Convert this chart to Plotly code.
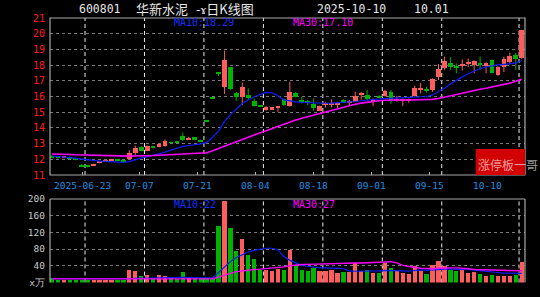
import pandas as pd
import plotly.graph_objects as go

W, H = 540, 297

# ---------------- data ----------------
holidays = ["2025-10-01", "2025-10-02", "2025-10-03", "2025-10-06", "2025-10-07", "2025-10-08"]
dates = [d.strftime("%Y-%m-%d") for d in pd.bdate_range("2025-06-13", "2025-10-10")
         if d.strftime("%Y-%m-%d") not in holidays]

opens = [12.22, 12.16, 12.10, 12.15, 12.06, 11.62, 11.57, 11.62, 11.78, 11.86,
         11.92, 11.98, 11.94, 12.02, 12.42, 12.78, 12.55, 12.78, 12.80, 12.84,
         13.10, 13.10, 13.48, 13.30, 13.40, 13.22, 14.44, 15.88, 17.47, 16.63,
         17.86, 16.20, 16.00, 16.10, 15.70, 15.42, 15.15, 15.20, 15.32, 15.82,
         15.40, 16.24, 15.76, 15.66, 15.52, 15.10, 15.50, 15.50, 15.50, 15.78,
         15.64, 15.67, 16.14, 16.10, 15.73, 16.00, 16.03, 16.31, 15.76, 15.73,
         15.76, 16.03, 16.44, 16.42, 16.41, 17.22, 17.80, 18.11, 17.90, 17.98,
         18.10, 18.00, 18.08, 17.94, 18.30, 17.37, 17.90, 18.22, 18.62, 18.46]
highs = [12.28, 12.20, 12.22, 12.18, 12.10, 11.70, 11.65, 11.72, 11.88, 11.94,
         12.00, 12.02, 11.98, 12.58, 12.88, 12.84, 12.88, 12.86, 13.02, 13.26,
         13.14, 13.18, 13.70, 13.44, 13.42, 13.24, 14.44, 15.88, 17.47, 18.92,
         17.86, 16.30, 16.90, 16.52, 15.88, 15.46, 15.38, 15.32, 15.40, 15.86,
         16.95, 16.30, 15.99, 15.78, 15.88, 15.42, 15.66, 15.82, 15.66, 15.82,
         15.78, 16.30, 16.30, 16.42, 15.88, 16.10, 16.42, 16.42, 16.03, 15.88,
         15.88, 16.68, 16.86, 16.62, 17.16, 18.07, 18.54, 18.50, 18.10, 18.36,
         18.42, 18.30, 18.54, 18.18, 18.36, 17.92, 18.54, 18.80, 18.79, 20.25]
lows = [12.10, 12.05, 12.06, 12.04, 11.94, 11.50, 11.48, 11.60, 11.75, 11.84,
        11.90, 11.88, 11.84, 11.98, 12.28, 12.52, 12.52, 12.68, 12.76, 12.80,
        13.00, 13.02, 13.18, 13.22, 13.20, 13.10, 14.44, 15.88, 17.30, 16.16,
        16.40, 15.73, 15.46, 15.78, 15.36, 15.34, 15.10, 15.18, 15.03, 15.40,
        15.35, 15.95, 15.56, 15.45, 15.10, 15.08, 15.30, 15.30, 15.26, 15.58,
        15.40, 15.66, 15.80, 15.74, 15.40, 15.90, 15.99, 15.52, 15.68, 15.40,
        15.61, 15.99, 16.20, 16.24, 16.30, 17.05, 17.70, 17.70, 17.48, 17.65,
        17.88, 17.48, 17.70, 17.48, 17.50, 17.32, 17.56, 18.10, 17.70, 18.40]
closes = [12.14, 12.10, 12.16, 12.08, 11.98, 11.58, 11.54, 11.70, 11.84, 11.90,
          11.97, 11.93, 11.88, 12.42, 12.74, 12.56, 12.82, 12.74, 12.98, 13.14,
          13.04, 13.06, 13.26, 13.34, 13.24, 13.13, 14.44, 15.88, 17.47, 18.32,
          16.46, 16.00, 16.58, 15.90, 15.40, 15.38, 15.30, 15.30, 15.36, 15.46,
          16.31, 16.00, 15.72, 15.62, 15.25, 15.40, 15.54, 15.54, 15.54, 15.60,
          15.68, 16.03, 16.18, 15.84, 15.82, 15.98, 16.35, 15.78, 15.80, 15.82,
          15.80, 16.52, 16.48, 16.40, 17.09, 17.73, 18.28, 17.90, 17.86, 18.02,
          18.14, 18.26, 18.05, 18.11, 17.52, 17.86, 18.37, 18.58, 18.41, 20.25]
volumes = [11, 6.4, 6.4, 6, 6, 5, 5, 5, 5, 6,
           5, 6, 6, 29, 26.5, 14.5, 17, 9, 19, 15,
           11, 9, 24, 10, 11, 11, 11, 8, 136, 195,
           131, 76, 105, 65, 57, 31, 29, 27, 33, 31,
           79, 41, 31, 26.5, 35, 26.5, 26.5, 29, 22, 25,
           25, 46.6, 27, 29, 22.5, 22.5, 46.6, 34.5, 26.5, 22.5,
           20, 38.6, 26.5, 20, 43, 50.6, 40, 29, 26.5, 29,
           23, 25, 20, 16, 17.7, 16, 16, 16, 19, 48]

ma10 = [12.21, 12.19, 12.16, 12.11, 12.06, 12.01, 11.96, 11.92, 11.89, 11.87,
        11.85, 11.82, 11.80, 11.85, 11.98, 12.08, 12.17, 12.26, 12.34, 12.45,
        12.58, 12.70, 12.82, 12.88, 12.92, 12.98, 13.08, 13.40, 13.80, 14.40,
        14.85, 15.22, 15.55, 15.78, 15.98, 16.12, 16.26, 16.24, 16.05, 15.78,
        15.70, 15.66, 15.62, 15.60, 15.58, 15.57, 15.57, 15.58, 15.60, 15.62,
        15.65, 15.68, 15.73, 15.78, 15.82, 15.84, 15.86, 15.88, 15.88, 15.88,
        15.90, 15.94, 15.97, 16.00, 16.10, 16.30, 16.52, 16.80, 17.05, 17.25,
        17.45, 17.62, 17.78, 17.88, 17.96, 18.01, 18.05, 18.08, 18.12, 18.29]
ma30 = [12.34, 12.34, 12.33, 12.31, 12.29, 12.28, 12.27, 12.25, 12.23, 12.21,
        12.20, 12.20, 12.20, 12.20, 12.21, 12.21, 12.22, 12.24, 12.26, 12.28,
        12.30, 12.31, 12.33, 12.34, 12.35, 12.37, 12.42, 12.55, 12.70, 12.85,
        12.98, 13.12, 13.26, 13.40, 13.54, 13.68, 13.82, 13.95, 14.10, 14.25,
        14.40, 14.50, 14.62, 14.72, 14.82, 14.93, 15.04, 15.14, 15.24, 15.34,
        15.42, 15.50, 15.58, 15.64, 15.69, 15.73, 15.76, 15.78, 15.78, 15.78,
        15.78, 15.78, 15.78, 15.79, 15.82, 15.87, 15.96, 16.05, 16.14, 16.22,
        16.30, 16.38, 16.46, 16.53, 16.60, 16.67, 16.74, 16.85, 16.97, 17.10]
vol_ma10 = [9, 9, 9, 9, 9, 9, 9, 9, 9, 9,
            8, 8, 8, 9, 10, 10.5, 11, 11.5, 12, 12.5,
            12.5, 12.5, 12.5, 12, 11.5, 11, 11, 11, 24, 38,
            50, 60, 67, 73, 77, 80, 82, 82, 78, 62,
            53, 47, 41, 39, 37, 35, 35, 35, 34, 33,
            28, 27, 27, 27, 27, 28, 29, 29, 29, 28,
            27, 29, 30, 29, 30, 32, 32, 32, 32, 31,
            30.5, 29.5, 28.5, 27, 25.5, 24, 22.5, 22.5, 22.5, 22]
vol_ma30 = [8.8, 8.8, 8.8, 8.8, 8.8, 8.8, 8.8, 8.8, 8.8, 8.8,
            8, 8, 8, 9, 9, 9, 9, 9, 9, 9,
            9, 9, 9, 9, 9, 9, 9, 9, 13, 18,
            22, 26, 28, 29.5, 31, 32, 33, 35, 36.5, 37.5,
            40, 42, 43, 43.5, 44, 45, 45.5, 46, 46.5, 46.5,
            46.6, 46.6, 46.6, 46.8, 47, 47.5, 49, 50, 47, 41,
            38, 36, 34, 33, 33, 34, 35, 35, 35, 34.5,
            33, 31, 30.5, 30.5, 30, 29.5, 29, 29, 28.5, 28]

axis_labels = ["2025-06-23", "07-07", "07-21", "08-04", "08-18", "09-01", "09-15", "10-10"]
grid_dates = ["2025-06-23", "2025-07-07", "2025-07-21", "2025-08-04",
              "2025-08-18", "2025-09-01", "2025-09-15", "2025-10-10"]
price_ticks = list(range(11, 22))
vol_ticks = [0, 40, 80, 120, 160, 200]
vol_ticktext = ["x万", "40", "80", "120", "160", "200"]

# ---------------- styling ----------------
UP = "#ff5c5c"
DOWN = "#00b300"
BG = "#000000"
MONO = "DejaVu Sans Mono"
CJK = "Noto Sans CJK SC"


def fx(px):
    return px / W


def fy(py):
    return 1 - py / H


idx = list(range(len(dates)))
is_up = [c > o for o, c in zip(opens, closes)]
colors = [UP if u else DOWN for u in is_up]

fig = go.Figure()

# candle wicks
for flag, col in ((True, UP), (False, DOWN)):
    wx, wy = [], []
    for i in idx:
        if is_up[i] == flag:
            wx += [i, i, None]
            wy += [lows[i], highs[i], None]
    fig.add_trace(go.Scatter(x=wx, y=wy, mode="lines", line=dict(color=col, width=1),
                             hoverinfo="skip", showlegend=False, xaxis="x", yaxis="y"))

# candle bodies
MINH = 0.06
for flag, col in ((True, UP), (False, DOWN)):
    bx, bb, bh = [], [], []
    for i in idx:
        if is_up[i] == flag:
            lo, hi = min(opens[i], closes[i]), max(opens[i], closes[i])
            if hi - lo < MINH:
                mid = (hi + lo) / 2
                lo, hi = mid - MINH / 2, mid + MINH / 2
            bx.append(i)
            bb.append(lo)
            bh.append(hi - lo)
    fig.add_trace(go.Bar(x=bx, y=bh, base=bb, width=0.8, marker=dict(color=col, line=dict(width=0)),
                         showlegend=False, xaxis="x", yaxis="y"))

fig.add_trace(go.Scatter(x=idx, y=ma10, mode="lines", line=dict(color="#0a1eff", width=1.2),
                         showlegend=False, xaxis="x", yaxis="y"))
fig.add_trace(go.Scatter(x=idx, y=ma30, mode="lines", line=dict(color="#ff00ff", width=1.6),
                         showlegend=False, xaxis="x", yaxis="y"))

# volume
fig.add_trace(go.Bar(x=idx, y=volumes, width=0.72, marker=dict(color=colors, line=dict(width=0)),
                     showlegend=False, xaxis="x2", yaxis="y2"))
fig.add_trace(go.Scatter(x=idx, y=vol_ma10, mode="lines", line=dict(color="#0a1eff", width=1.2),
                         showlegend=False, xaxis="x2", yaxis="y2"))
fig.add_trace(go.Scatter(x=idx, y=vol_ma30, mode="lines", line=dict(color="#ff00ff", width=1.4),
                         showlegend=False, xaxis="x2", yaxis="y2"))

# ---------------- layout ----------------
XL, XR = 50, 525
P_TOP, P_BOT = 18, 175
V_TOP, V_BOT = 199, 282.5
xrange_ = [-0.34, len(dates) - 1 + 0.55]

n_lab = len(axis_labels)
lab_first, lab_last = 5.05, 73.2
lab_pos = [lab_first + k * (lab_last - lab_first) / (n_lab - 1) for k in range(n_lab)]

fig.update_layout(
    width=W, height=H, margin=dict(l=0, r=0, t=0, b=0),
    paper_bgcolor=BG, plot_bgcolor=BG, barmode="overlay", bargap=0,
    xaxis=dict(domain=[fx(XL), fx(XR)], range=xrange_, showgrid=False, zeroline=False,
               tickvals=lab_pos, ticks="inside", ticklen=3, tickcolor="#b0b0b0",
               showticklabels=False, anchor="y", automargin=False),
    yaxis=dict(domain=[fy(P_BOT), fy(P_TOP)], range=[11, 21], tickvals=price_ticks,
               showgrid=True, gridcolor="#7a7a7a", griddash="dot", gridwidth=1,
               zeroline=False, ticks="", ticklabelstandoff=4,
               tickfont=dict(family=MONO, size=10, color="#ff1a1a"), automargin=False),
    xaxis2=dict(domain=[fx(XL), fx(XR)], range=xrange_, showgrid=False, zeroline=False,
                showticklabels=False, ticks="", anchor="y2", automargin=False),
    yaxis2=dict(domain=[fy(V_BOT), fy(V_TOP)], range=[0, 200], tickvals=vol_ticks,
                ticktext=vol_ticktext, showgrid=True, gridcolor="#7a7a7a", griddash="dot",
                zeroline=False, ticks="", ticklabelstandoff=4,
                tickfont=dict(family=MONO, size=9.5, color="#c8c8c8"), automargin=False),
)

shapes = []
# dashed vertical grid lines
for d in grid_dates:
    gi = dates.index(d) - 0.45
    for (y0, y1) in ((P_BOT, P_TOP), (V_BOT, V_TOP)):
        shapes.append(dict(type="line", xref="x", yref="paper", x0=gi, x1=gi,
                           y0=fy(y0), y1=fy(y1), layer="below",
                           line=dict(color="#ececec", width=1, dash="4px,3px")))
# borders
shapes.append(dict(type="rect", xref="paper", yref="paper", x0=fx(XL), x1=fx(XR),
                   y0=fy(P_BOT), y1=fy(P_TOP), line=dict(color="#a8a8a8", width=1.2), layer="above"))
for (x0, y0, x1, y1) in ((XL, V_BOT, XL, V_TOP), (XL, V_TOP, XR, V_TOP), (XR, V_BOT, XR, V_TOP)):
    shapes.append(dict(type="line", xref="paper", yref="paper", x0=fx(x0), x1=fx(x1),
                       y0=fy(y0), y1=fy(y1), line=dict(color="#a8a8a8", width=1.2), layer="above"))
# red badge
shapes.append(dict(type="rect", xref="paper", yref="paper", x0=fx(475.7), x1=fx(XR),
                   y0=fy(P_BOT), y1=fy(149), fillcolor="#d20000", line=dict(width=0), layer="above"))
fig.update_layout(shapes=shapes)

ann = []


def text(x, y, s, size, color, family=MONO, xanchor="left"):
    ann.append(dict(x=fx(x), y=fy(y), xref="paper", yref="paper", text=s, showarrow=False,
                    xanchor=xanchor, yanchor="middle", font=dict(family=family, size=size, color=color)))


LIGHT = "#e6e6e6"
text(77, 9, "600801", 11.5, LIGHT)
text(134, 9, "华新水泥", 13, LIGHT, CJK)
text(194, 9, "-ɤ日K线图", 13, LIGHT, CJK)
text(315, 9, "2025-10-10", 11.5, LIGHT)
text(412, 9, "10.01", 11.5, LIGHT)

text(172, 23, "MA10:18.29", 10, "#1030ff")
text(291, 23, "MA30:17.10", 10, "#ff00ff")
text(172, 204, "MA10:22", 10, "#1030ff")
text(291, 204, "MA30:27", 10, "#ff00ff")

text(475.5, 164, "涨停板一哥", 12, "rgba(255,255,255,0.62)", CJK)

for lab, pos in zip(axis_labels, lab_pos):
    ann.append(dict(x=pos, y=fy(185.5), xref="x", yref="paper", text=lab, showarrow=False,
                    xanchor="center", yanchor="middle",
                    font=dict(family=MONO, size=9.5, color="#1e8ee0")))

fig.update_layout(annotations=ann)

fig.write_html("out.html")
